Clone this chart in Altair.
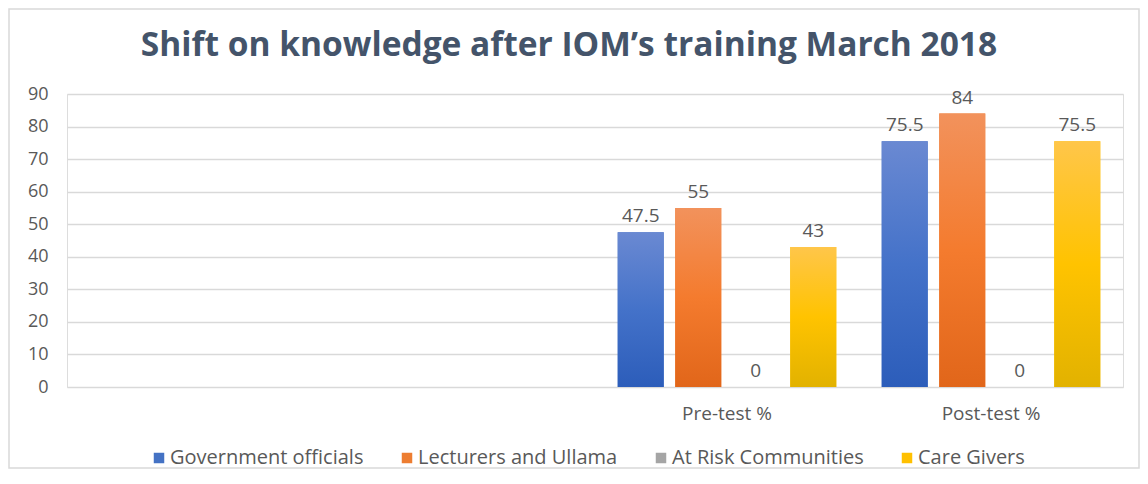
import altair as alt
import pandas as pd

categories = [" ", "  ", "Pre-test %", "Post-test %"]
series = ["Government officials", "Lecturers and Ullama", "At Risk Communities", "Care Givers"]
pre_test = [47.5, 55, 0, 43]
post_test = [75.5, 84, 0, 75.5]
legend_colors = ["#4472C4", "#ED7D31", "#A5A5A5", "#FFC000"]
gradients = {
    "Government officials": ["#6A89D2", "#4472C9", "#2C5DBA"],
    "Lecturers and Ullama": ["#F2925C", "#F47B2E", "#E1661A"],
    "At Risk Communities": ["#BDBDBD", "#A5A5A5", "#8C8C8C"],
    "Care Givers": ["#FFC64A", "#FFC300", "#E2B200"],
}

rows = []
for s, v in zip(series, pre_test):
    rows.append({"cat": "Pre-test %", "series": s, "value": v})
for s, v in zip(series, post_test):
    rows.append({"cat": "Post-test %", "series": s, "value": v})
df = pd.DataFrame(rows)

FONT = "Open Sans"
TXT = "#595959"

x_enc = alt.X("cat:N", scale=alt.Scale(domain=categories, paddingInner=0, paddingOuter=0),
              sort=categories,
              axis=alt.Axis(title=None, domain=False, ticks=False, grid=False, labelAngle=0,
                            labelFontSize=19, labelColor=TXT, labelFont=FONT, labelPadding=17))
xo_enc = alt.XOffset("series:N", scale=alt.Scale(domain=series, paddingInner=0.2, paddingOuter=0.395),
                     sort=series)
y_enc = alt.Y("value:Q", scale=alt.Scale(domain=[0, 90]),
              axis=alt.Axis(title=None, values=list(range(0, 91, 10)), domain=False, ticks=False,
                            labelFontSize=18, labelColor=TXT, labelFont=FONT, labelPadding=19,
                            gridColor="#D9D9D9", gridWidth=1.5))

base = alt.Chart(df)

flat = base.mark_bar().encode(
    x=x_enc, xOffset=xo_enc, y=y_enc,
    color=alt.Color("series:N", scale=alt.Scale(domain=series, range=legend_colors), sort=series,
                    legend=alt.Legend(title=None, orient="none", direction="horizontal", columns=4,
                                      legendX=82, legendY=354, symbolType="square", symbolSize=110,
                                      symbolStrokeWidth=0, labelFontSize=20, labelColor=TXT,
                                      labelFont=FONT, columnPadding=33, labelOffset=1,
                                      labelLimit=400, padding=0)),
)

grad_layers = []
for s in series:
    stops = gradients[s]
    g = alt.Gradient(gradient="linear", x1=0, y1=0, x2=0, y2=1,
                     stops=[alt.GradientStop(offset=0, color=stops[0]),
                            alt.GradientStop(offset=0.5, color=stops[1]),
                            alt.GradientStop(offset=1, color=stops[2])])
    grad_layers.append(
        base.transform_filter(alt.datum.series == s).mark_bar(color=g).encode(
            x=x_enc, xOffset=xo_enc, y=y_enc)
    )

labels = base.mark_text(baseline="alphabetic", dy=-10, fontSize=19, font=FONT, color=TXT).encode(
    x=x_enc, xOffset=xo_enc, y=y_enc, text=alt.Text("value:Q")
)

border = alt.Chart(pd.DataFrame({"b": [0]})).mark_rect(
    fill=None, stroke="#D9D9D9", strokeWidth=1.5, clip=False
).encode(x=alt.value(-58), x2=alt.value(1056 + 16), y=alt.value(-85), y2=alt.value(293 + 81))

chart = alt.layer(border, flat, *grad_layers, labels).properties(
    width=1056, height=293,
    autosize=alt.AutoSizeParams(type="none"),
    padding={"left": 59, "top": 86, "right": 17, "bottom": 83},
    title=alt.Title("Shift on knowledge after IOM\u2019s training March 2018",
                    font="Open Sans", fontSize=33.5, fontWeight="bold", color="#44546A",
                    anchor="middle", frame="group", dx=-26, offset=-81, baseline="alphabetic"),
).configure_view(stroke=None).configure(background="white")

chart.save("out.html", embed_options={"renderer": "svg", "actions": False})
